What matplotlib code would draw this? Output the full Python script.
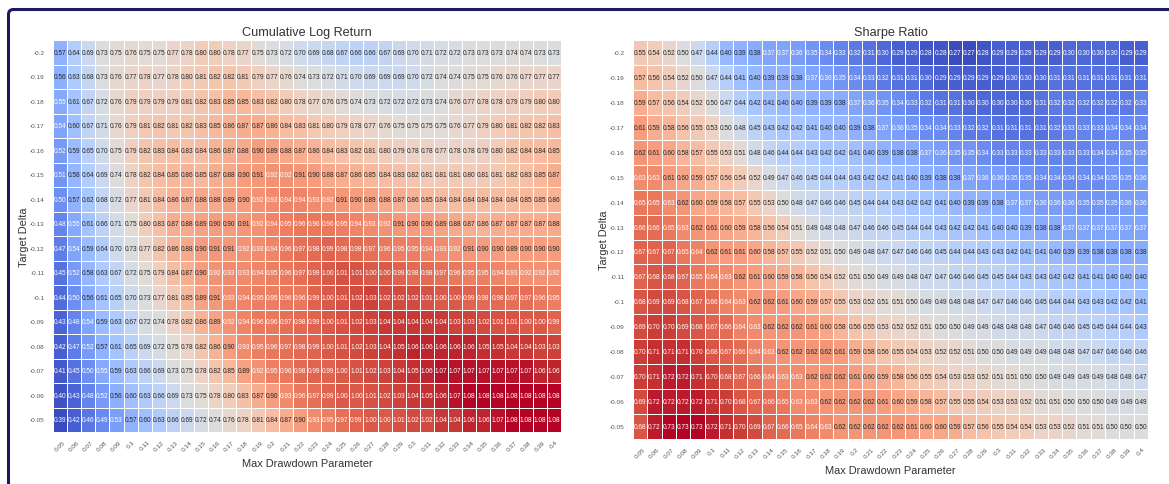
import numpy as np
import matplotlib
matplotlib.use('Agg')
import matplotlib.pyplot as plt
import seaborn as sns
from matplotlib.patches import FancyBboxPatch
from matplotlib.transforms import IdentityTransform

# axis values
max_drawdown = ['0.05', '0.06', '0.07', '0.08', '0.09', '0.1', '0.11', '0.12', '0.13', '0.14', '0.15', '0.16',
                '0.17', '0.18', '0.19', '0.2', '0.21', '0.22', '0.23', '0.24', '0.25', '0.26', '0.27', '0.28',
                '0.29', '0.3', '0.31', '0.32', '0.33', '0.34', '0.35', '0.36', '0.37', '0.38', '0.39', '0.4']
target_delta = ['-0.2', '-0.19', '-0.18', '-0.17', '-0.16', '-0.15', '-0.14', '-0.13',
                '-0.12', '-0.11', '-0.1', '-0.09', '-0.08', '-0.07', '-0.06', '-0.05']

# cumulative log return, one row per target delta
cum_return = [
    [.57,.64,.69,.73,.75,.76,.75,.75,.77,.78,.80,.80,.78,.77,.75,.73,.72,.70,.69,.68,.67,.66,.66,.67,.69,.70,.71,.72,.72,.73,.73,.73,.74,.74,.73,.73],
    [.56,.63,.68,.73,.76,.77,.78,.77,.78,.80,.81,.82,.82,.81,.79,.77,.76,.74,.73,.72,.71,.70,.69,.69,.69,.70,.72,.74,.74,.75,.75,.76,.76,.77,.77,.77],
    [.55,.61,.67,.72,.76,.79,.79,.79,.79,.81,.82,.83,.85,.85,.83,.82,.80,.78,.77,.76,.75,.74,.73,.72,.72,.72,.73,.74,.76,.77,.78,.78,.79,.79,.80,.80],
    [.54,.60,.67,.71,.76,.79,.81,.82,.81,.82,.83,.85,.86,.87,.87,.86,.84,.83,.81,.80,.79,.78,.77,.76,.75,.75,.75,.75,.76,.77,.79,.80,.81,.82,.82,.83],
    [.52,.59,.65,.70,.75,.79,.82,.83,.84,.83,.84,.86,.87,.88,.90,.89,.88,.87,.86,.84,.83,.82,.81,.80,.79,.78,.78,.77,.78,.78,.79,.80,.82,.84,.84,.85],
    [.51,.58,.64,.69,.74,.78,.82,.84,.85,.86,.85,.87,.88,.90,.91,.92,.92,.91,.90,.88,.87,.86,.85,.84,.83,.82,.81,.81,.81,.80,.81,.81,.82,.83,.85,.87],
    [.50,.57,.62,.68,.72,.77,.81,.84,.86,.87,.88,.88,.89,.90,.92,.93,.94,.94,.93,.92,.91,.90,.89,.88,.87,.86,.85,.84,.84,.84,.84,.84,.84,.85,.85,.86],
    [.48,.55,.61,.66,.71,.75,.80,.83,.87,.88,.89,.90,.90,.91,.92,.94,.95,.96,.96,.96,.95,.94,.93,.92,.91,.90,.90,.89,.88,.87,.86,.87,.87,.87,.87,.88],
    [.47,.54,.59,.64,.70,.73,.77,.82,.86,.88,.90,.91,.91,.92,.93,.94,.96,.97,.98,.99,.98,.98,.97,.96,.95,.95,.94,.93,.92,.91,.90,.90,.89,.90,.90,.90],
    [.45,.52,.58,.63,.67,.72,.75,.79,.84,.87,.90,.92,.93,.93,.94,.95,.96,.97,.99,1.00,1.01,1.01,1.00,1.00,.99,.98,.98,.97,.96,.95,.95,.94,.93,.92,.92,.92],
    [.44,.50,.56,.61,.65,.70,.73,.77,.81,.85,.89,.91,.93,.94,.95,.95,.96,.96,.99,1.00,1.01,1.02,1.03,1.02,1.02,1.02,1.01,1.00,1.00,.99,.98,.98,.97,.97,.96,.95],
    [.43,.48,.54,.59,.63,.67,.72,.74,.78,.82,.86,.89,.92,.94,.96,.96,.97,.98,.99,1.00,1.01,1.02,1.03,1.04,1.04,1.04,1.04,1.04,1.03,1.03,1.02,1.01,1.01,1.00,1.00,.99],
    [.42,.47,.52,.57,.61,.65,.69,.72,.75,.78,.82,.86,.90,.93,.95,.96,.97,.98,.99,1.00,1.01,1.02,1.03,1.04,1.05,1.06,1.06,1.06,1.06,1.06,1.05,1.05,1.04,1.04,1.03,1.03],
    [.41,.45,.50,.55,.59,.63,.66,.69,.73,.75,.78,.82,.85,.89,.92,.95,.96,.98,.99,.99,1.00,1.01,1.02,1.03,1.04,1.05,1.06,1.07,1.07,1.07,1.07,1.07,1.07,1.07,1.06,1.06],
    [.40,.43,.48,.52,.56,.60,.63,.66,.69,.73,.75,.78,.80,.83,.87,.90,.93,.96,.97,.99,1.00,1.00,1.01,1.02,1.03,1.04,1.05,1.06,1.07,1.08,1.08,1.08,1.08,1.08,1.08,1.08],
    [.39,.42,.46,.49,.53,.57,.60,.63,.66,.69,.72,.74,.76,.78,.81,.84,.87,.90,.93,.95,.97,.99,1.00,1.00,1.01,1.02,1.02,1.04,1.04,1.06,1.06,1.07,1.08,1.08,1.08,1.08],
]

# sharpe ratio, same grid
sharpe = [
    [.55,.54,.52,.50,.47,.44,.40,.39,.38,.37,.37,.36,.35,.34,.33,.32,.31,.30,.29,.29,.28,.28,.27,.27,.28,.29,.29,.29,.29,.29,.30,.30,.30,.30,.29,.29],
    [.57,.56,.54,.52,.50,.47,.44,.41,.40,.39,.39,.38,.37,.36,.35,.34,.33,.32,.31,.31,.30,.29,.29,.29,.29,.29,.30,.30,.30,.31,.31,.31,.31,.31,.31,.31],
    [.59,.57,.56,.54,.52,.50,.47,.44,.42,.41,.40,.40,.39,.39,.38,.37,.36,.35,.34,.33,.32,.31,.31,.30,.30,.30,.30,.30,.31,.32,.32,.32,.32,.32,.32,.33],
    [.61,.59,.58,.56,.55,.53,.50,.48,.45,.43,.42,.42,.41,.40,.40,.39,.38,.37,.36,.35,.34,.34,.33,.32,.32,.31,.31,.31,.31,.32,.33,.33,.33,.34,.34,.34],
    [.62,.61,.60,.58,.57,.55,.53,.51,.48,.46,.44,.44,.43,.42,.42,.41,.40,.39,.38,.38,.37,.36,.35,.35,.34,.33,.33,.33,.33,.33,.33,.33,.34,.34,.35,.35],
    [.63,.63,.61,.60,.59,.57,.56,.54,.52,.49,.47,.46,.45,.44,.44,.43,.42,.42,.41,.40,.39,.38,.38,.37,.36,.36,.35,.35,.34,.34,.34,.34,.34,.35,.35,.36],
    [.65,.65,.63,.62,.60,.59,.58,.57,.55,.53,.50,.48,.47,.46,.46,.45,.44,.44,.43,.42,.42,.41,.40,.39,.39,.38,.37,.37,.36,.36,.36,.35,.35,.35,.36,.36],
    [.66,.66,.65,.63,.62,.61,.60,.59,.58,.56,.54,.51,.49,.48,.48,.47,.46,.46,.45,.44,.44,.43,.42,.42,.41,.40,.40,.39,.38,.38,.37,.37,.37,.37,.37,.37],
    [.67,.67,.67,.65,.64,.62,.61,.61,.60,.58,.57,.55,.52,.51,.50,.49,.48,.47,.47,.46,.46,.45,.44,.44,.43,.43,.42,.41,.41,.40,.39,.39,.38,.38,.38,.38],
    [.67,.68,.68,.67,.65,.64,.63,.62,.61,.60,.59,.58,.56,.54,.52,.51,.50,.49,.49,.48,.47,.47,.46,.46,.45,.45,.44,.43,.43,.42,.42,.41,.41,.40,.40,.40],
    [.68,.69,.69,.68,.67,.66,.64,.63,.62,.62,.61,.60,.59,.57,.55,.53,.52,.51,.51,.50,.49,.49,.48,.48,.47,.47,.46,.46,.45,.44,.44,.43,.43,.42,.42,.41],
    [.69,.70,.70,.69,.68,.67,.66,.64,.63,.62,.62,.62,.61,.60,.58,.56,.55,.53,.52,.52,.51,.50,.50,.49,.49,.48,.48,.48,.47,.46,.46,.45,.45,.44,.44,.43],
    [.70,.71,.71,.71,.70,.68,.67,.66,.64,.63,.62,.62,.62,.62,.61,.59,.58,.56,.55,.54,.53,.52,.52,.51,.50,.50,.49,.49,.49,.48,.48,.47,.47,.46,.46,.46],
    [.70,.71,.72,.72,.71,.70,.68,.67,.66,.64,.63,.63,.62,.62,.62,.61,.60,.59,.58,.56,.55,.54,.53,.53,.52,.51,.51,.50,.50,.49,.49,.49,.49,.48,.48,.47],
    [.69,.72,.72,.72,.72,.71,.70,.68,.67,.66,.65,.63,.63,.62,.62,.62,.62,.61,.60,.59,.58,.57,.55,.55,.54,.53,.53,.52,.51,.51,.50,.50,.50,.49,.49,.49],
    [.68,.72,.73,.73,.73,.72,.71,.70,.69,.67,.66,.65,.64,.63,.62,.62,.62,.62,.62,.61,.60,.60,.59,.57,.56,.55,.54,.54,.53,.53,.52,.51,.51,.50,.50,.50],
]

W, H = 1169, 485
plt.rcParams['font.family'] = ['Liberation Sans', 'DejaVu Sans']
fig = plt.figure(figsize=(W / 100, H / 100), dpi=100, facecolor='white')

# navy frame, runs off the right and bottom of the picture
fig.add_artist(FancyBboxPatch((8.5, -30), W + 40, H + 30 - 10.5, boxstyle='round,pad=0,rounding_size=5',
                              fc='none', ec='#1b1a5c', lw=2.2, transform=IdentityTransform()))


def draw_panel(values, title, box):
    left, top, right, bottom = box
    ax = fig.add_axes([left / W, 1 - bottom / H, (right - left) / W, (bottom - top) / H])
    sns.heatmap(np.array(values), ax=ax, cmap='coolwarm', annot=True, fmt='.2f', annot_kws={'size': 4.7},
                linewidths=0.5, linecolor='white', cbar=False,
                xticklabels=max_drawdown, yticklabels=target_delta)
    ax.set_title(title, fontsize=9.1, color='#333333', pad=3.6)
    ax.set_xlabel('Max Drawdown Parameter', fontsize=7.9, color='#333333', labelpad=4.5)
    ax.set_ylabel('Target Delta', fontsize=7.9, color='#333333', labelpad=0.8)
    ax.tick_params(axis='x', length=0, labelsize=4.6, labelcolor='#555555', rotation=45, pad=5)
    ax.tick_params(axis='y', length=0, labelsize=4.6, labelcolor='#555555', rotation=0, pad=6)


draw_panel(cum_return, 'Cumulative Log Return', (53, 41, 561, 433))
draw_panel(sharpe, 'Sharpe Ratio', (633, 41, 1148, 440))

fig.savefig('out.png', dpi=100)
